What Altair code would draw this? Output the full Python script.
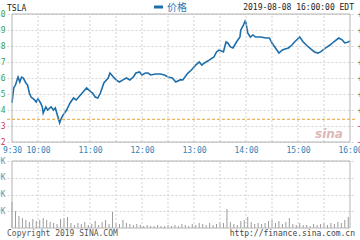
import altair as alt
import pandas as pd

# ---- data -------------------------------------------------------------
# minutes after 09:30 and TSLA price (USD)
minutes = [0, 2, 4, 7, 9, 11, 13, 16, 18, 20, 22, 26, 28, 30, 33, 35, 36, 39, 41, 45,
           48, 50, 53, 55, 57, 59, 63, 67, 71, 74, 77, 82, 86, 91, 93, 96, 99, 102, 106, 111,
           113, 117, 120, 124, 128, 132, 136, 140, 143, 147, 150, 154, 157, 160, 166, 171, 176, 180, 185, 189,
           194, 197, 203, 207, 212, 216, 219, 222, 228, 233, 236, 239, 244, 246, 247, 249, 252, 255, 259, 263,
           264, 267, 269, 270, 272, 275, 278, 281, 287, 293, 297, 300, 304, 308, 312, 315, 319, 323, 326, 332,
           336, 342, 345, 349, 353, 356, 362, 367, 371, 377, 381, 384, 388, 390]
prices = [234.44, 235.38, 235.56, 236.06, 235.75, 236.06, 236.00, 235.69, 235.56, 235.06,
          234.81, 234.63, 234.50, 234.69, 234.44, 234.19, 233.81, 234.19, 234.00, 234.19,
          234.00, 234.13, 233.56, 233.19, 233.50, 233.69, 234.00, 234.44, 234.75, 234.63,
          234.81, 235.13, 235.38, 235.13, 235.06, 234.81, 234.75, 235.06, 235.69, 236.00,
          236.31, 236.06, 235.88, 235.75, 235.88, 236.00, 235.88, 236.06, 236.31, 236.38,
          236.19, 236.31, 236.31, 236.19, 236.25, 236.25, 236.19, 236.06, 236.00, 235.75,
          235.88, 235.88, 236.31, 236.50, 236.81, 237.00, 236.81, 236.94, 237.13, 237.31,
          237.63, 237.75, 237.63, 238.06, 238.25, 238.19, 237.94, 237.88, 238.25, 238.56,
          239.00, 239.31, 239.56, 239.44, 238.81, 238.56, 238.69, 238.56, 238.56, 238.50,
          238.50, 238.19, 237.88, 237.56, 237.75, 237.81, 237.88, 238.06, 238.25, 238.56,
          238.25, 237.94, 237.81, 237.63, 237.56, 237.63, 237.88, 238.06, 238.25, 238.50,
          238.38, 238.19, 238.25, 238.31]
prev_close = 233.42

# volume (thousand shares), one bar every 4 minutes
vol_minutes = list(range(0, 390, 4))
volumes = [78, 51, 36, 30, 24, 18, 27, 21, 24, 30,
           24, 18, 15, 12, 27, 30, 33, 15, 9, 15,
           12, 18, 9, 12, 21, 9, 18, 24, 12, 48,
           15, 12, 24, 15, 12, 9, 12, 9, 6, 9,
           6, 6, 9, 6, 6, 9, 6, 9, 6, 12,
           9, 6, 12, 9, 15, 12, 9, 15, 9, 12,
           18, 15, 57, 18, 12, 9, 21, 24, 33, 18,
           12, 15, 12, 15, 21, 24, 15, 21, 12, 18,
           30, 12, 9, 15, 9, 9, 6, 12, 9, 12,
           15, 9, 15, 12, 18, 15, 24, 33]

time_ticks = [0, 30, 60, 90, 120, 150, 180, 210, 240, 270, 300, 330, 360, 390]
inner_grid = [30, 60, 90, 120, 150, 180, 210, 240, 270, 300, 330, 360]
price_ticks = [232, 233, 234, 235, 236, 237, 238, 239, 240]
vol_ticks = [50, 100, 150, 200]

# ---- styling ------------------------------------------------------------
FONT = "DejaVu Sans Mono"
GRID = "#d2d2d2"
FRAME = "#b4b4b4"
LINE = "#1e6eaa"
UP = "#3c9a3c"
DOWN = "#d03a3a"

price_df = pd.DataFrame({"m": minutes, "p": prices})
vol_df = pd.DataFrame({"m": vol_minutes, "v": volumes})
grid_df = pd.DataFrame({"m": inner_grid})
pc_df = pd.DataFrame({"c": [prev_close]})
one = pd.DataFrame({"a": [0]})

xscale = alt.Scale(domain=[0, 390], nice=False, zero=False)
xaxis = alt.Axis(
    values=time_ticks,
    labelExpr="datum.value == 0 ? '9:30' : ((datum.value - 30) % 60 == 0 ? (10 + (datum.value - 30) / 60) + ':00' : '')",
    orient="bottom", offset=-86, grid=False, domain=False, ticks=False,
    labelPadding=4, labelColor="#3582b5", labelFont=FONT, labelFontSize=8,
    labelFlush=False, labelOverlap=False, title=None,
)
pscale = alt.Scale(domain=[232, 240], range=[128, 0], nice=False, zero=False)
vscale = alt.Scale(domain=[0, 200], range=[214, 147], nice=False)

price_axis = alt.Axis(
    values=price_ticks, format="d", orient="left", grid=True, gridColor=GRID,
    gridDash=[2, 2], domain=False, ticks=False, labelPadding=2, labelFont=FONT,
    labelFontSize=8, labelOverlap=False, labelFlush=False, title=None,
    labelColor={"condition": {"test": f"datum.value > {prev_close}", "value": UP}, "value": DOWN},
)
pct_axis = alt.Axis(
    values=price_ticks, orient="right", grid=False, domain=False, ticks=False,
    labelPadding=2, labelFont=FONT, labelFontSize=8, labelOverlap=False,
    labelFlush=False, title=None,
    labelExpr=f"format((datum.value - {prev_close}) / {prev_close} * 100, '+.2f') + '%'",
    labelColor={"condition": {"test": f"datum.value > {prev_close}", "value": UP}, "value": DOWN},
)
vol_axis = alt.Axis(
    values=vol_ticks, orient="left", grid=True, gridColor=GRID, gridDash=[2, 2],
    domain=False, ticks=False, labelPadding=2, labelFont=FONT, labelFontSize=8,
    labelColor="#888888", labelOverlap=False, labelFlush=False, title=None,
    labelExpr="datum.value + 'K'",
)

X = alt.X("m:Q", scale=xscale, axis=xaxis)

# ---- price panel --------------------------------------------------------
p_line = alt.Chart(price_df).mark_line(color=LINE, strokeWidth=1.6).encode(
    x=X, y=alt.Y("p:Q", scale=pscale, axis=price_axis),
)
p_vgrid = alt.Chart(grid_df).mark_rule(color=GRID, strokeDash=[2, 2], strokeWidth=1).encode(
    x=X, y=alt.YDatum(232, scale=pscale, axis=price_axis), y2=alt.Y2Datum(240),
)
p_frame = alt.Chart(one).mark_rect(fill=None, stroke=FRAME, strokeWidth=1).encode(
    x=alt.XDatum(0, scale=xscale, axis=xaxis), x2=alt.X2Datum(390),
    y=alt.YDatum(232, scale=pscale, axis=price_axis), y2=alt.Y2Datum(240),
)
watermark = alt.Chart(one).mark_text(
    text="sina", font="DejaVu Sans", fontSize=12, fontStyle="italic", fontWeight="bold",
    color="#dcb8b8", align="center", baseline="middle",
).encode(x=alt.value(322), y=alt.value(120))
price_layer = alt.layer(p_line, p_vgrid, p_frame, watermark)

pct_layer = alt.Chart(pc_df).mark_rule(color="#e8a030", strokeDash=[3, 2], strokeWidth=1).encode(
    y=alt.Y("c:Q", scale=pscale, axis=pct_axis),
)

# ---- volume panel -------------------------------------------------------
v_bars = alt.Chart(vol_df).mark_bar(size=1, color="#9a9a9a").encode(
    x=X, y=alt.Y("v:Q", scale=vscale, axis=vol_axis),
)
v_vgrid = alt.Chart(grid_df).mark_rule(color=GRID, strokeDash=[2, 2], strokeWidth=1).encode(
    x=X, y=alt.YDatum(0, scale=vscale, axis=vol_axis), y2=alt.Y2Datum(200),
)
v_frame = alt.Chart(one).mark_rect(fill=None, stroke=FRAME, strokeWidth=1).encode(
    x=alt.XDatum(0, scale=xscale, axis=xaxis), x2=alt.X2Datum(390),
    y=alt.YDatum(0, scale=vscale, axis=vol_axis), y2=alt.Y2Datum(200),
)
vol_layer = alt.layer(v_bars, v_vgrid, v_frame)

# ---- header / footer texts ---------------------------------------------
def label(txt, x, y, align="left", color="#222222", font=FONT, size=8):
    return alt.Chart(one).mark_text(
        text=txt, font=font, fontSize=size, color=color, align=align, baseline="middle"
    ).encode(x=alt.value(x), y=alt.value(y))

legend_mark = alt.Chart(one).mark_rule(color=LINE, strokeWidth=3).encode(
    x=alt.value(147), x2=alt.value(156), y=alt.value(-7)
)
texts = alt.layer(
    label("TSLA", 0, -5),
    legend_mark,
    label("价格", 160, -6, color="#2b78b8", font="Noto Sans CJK SC", size=10),
    label("2019-08-08 16:00:00 EDT", 347, -6, align="right"),
    label("Copyright 2019 SINA.COM", 0, 220, color="#555555"),
    label("http://finance.sina.com.cn", 348, 220, align="right", color="#444444"),
)

chart = alt.layer(price_layer, pct_layer, vol_layer, texts).resolve_scale(
    y="independent"
).resolve_axis(y="independent").properties(
    width=348, height=214,
    padding={"left": 7, "top": 14, "right": 5, "bottom": 12},
    autosize=alt.AutoSizeParams(type="none"),
    background="white",
).configure_view(stroke=None)

chart.save("out.html", embed_options={"renderer": "svg", "actions": False})
